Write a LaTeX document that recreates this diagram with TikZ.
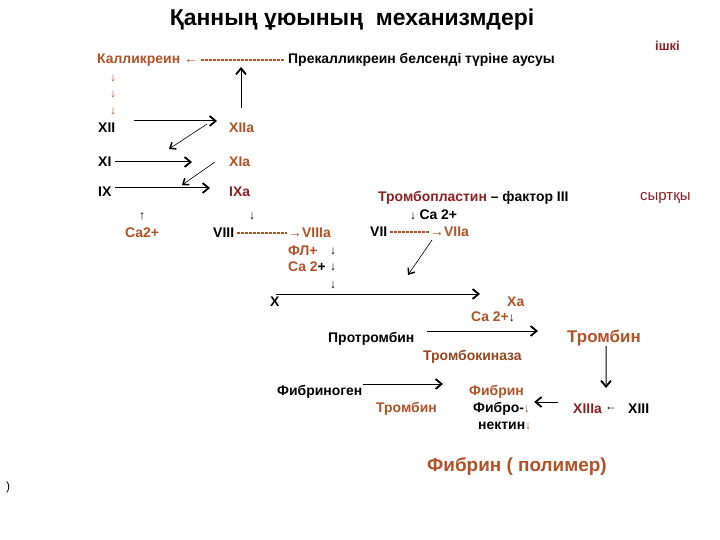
\documentclass[tikz,border=0pt]{standalone}
\usepackage{fontspec}
\setmainfont{Liberation Sans}
\usetikzlibrary{arrows.meta}
\definecolor{brn}{RGB}{178,82,40}
\definecolor{dred}{RGB}{140,32,36}
\tikzset{
  tx/.style={font=\bfseries\fontsize{14}{16}\selectfont, inner sep=0pt, anchor=west, text=black},
  br/.style={tx, text=brn},
  dr/.style={tx, text=dred},
  sm/.style={font=\fontsize{12}{14}\selectfont, inner sep=0pt, anchor=center},
  arr/.style={-{Straight Barb[length=6bp,width=10bp,line width=1.8bp]}, line width=1bp},
  tarr/.style={-{Straight Barb[length=5bp,width=8bp,line width=1.5bp]}, line width=0.6bp},
  brdash/.style={draw=brn, line width=1.6bp, dash pattern=on 2.5bp off 1.5bp}
}
\begin{document}
\begin{tikzpicture}[x=1bp,y=-1bp]
\useasboundingbox[fill=white] (0,0) rectangle (720,540);
% title
\node[font=\bfseries\fontsize{23}{26}\selectfont, inner sep=0] (title) at (352,20) {Қанның ұюының\ \ механизмдері};
\node[dr, font=\bfseries\fontsize{13}{15}\selectfont] (ishki) at (655,46) {ішкі};
\node[tx, font=\fontsize{15}{17}\selectfont, text=dred] (syrt) at (640,198) {сыртқы};
% top line
\node[br] (kal) at (97,60) {Калликреин ←};
\node[tx] (prek) at (288,60) {Прекалликреин белсенді түріне аусуы};
\draw[brdash] ([xshift=3bp]kal.east) -- ([xshift=-3bp]prek.west);
\node[sm, text=brn] (d1) at (113,78) {↓};
\node[sm, text=brn] (d2) at (113,94) {↓};
\node[sm, text=brn] (d3) at (113,111) {↓};
% cascade
\node[tx] (xii) at (98,128) {XII};
\node[br] (xiia) at (229,128) {XIIa};
\node[tx] (xi) at (98,162) {XI};
\node[br] (xia) at (229,162) {XIa};
\node[tx] (ix) at (98,192) {IX};
\node[dr] (ixa) at (229,192) {IXa};
\coordinate (up0) at (241,108);
\coordinate (up1) at (241,67);
\draw[arr] (up0) -- (up1);
\draw[arr] ([shift={(19,-7)}]xii.east) -- ([shift={(-12,-7)}]xiia.west);
\coordinate (g1) at (207,124);
\coordinate (g2) at (169,149);
\draw[tarr] (g1) -- (g2);
\draw[arr] ([shift={(3,0)}]xi.east) -- (192,162);
\coordinate (h1) at (215,162);
\coordinate (h2) at (182,185);
\draw[tarr] (h1) -- (h2);
\draw[arr] ([shift={(3,-4)}]ix.east) -- ([shift={(-19,-4)}]ixa.west);
\node[sm] (u1) at (142,216) {↑};
\node[sm] (u2) at (252,216) {↓};
\node[br] (ca1) at (125,233) {Ca2+};
\node[tx] (viii) at (213,233) {VIII};
\node[br] (viiia) at (288,233) {→VIIIa};
\draw[brdash] ([xshift=3bp]viii.east) -- ([xshift=-1bp]viiia.west);
% extrinsic
\node[dr] (tpl) at (378,198) {Тромбопластин\ \textcolor{black}{– фактор III}};
\node[tx] (ca2) at (410,215) {\fontsize{12}{14}\selectfont↓\ \fontsize{14}{16}\selectfont Ca 2+};
\node[tx] (vii) at (370,232) {VII};
\node[br] (viia) at (430,232) {→VIIa};
\draw[brdash] ([xshift=3bp]vii.east) -- ([xshift=-1bp]viia.west);
\coordinate (k1) at (432,240);
\coordinate (k2) at (408,275);
\draw[tarr] (k1) -- (k2);
% common pathway
\node[br] (fl) at (288,251) {ФЛ+};
\node[br] (ca3) at (288,267) {Ca 2\textcolor{black}{+}};
\node[sm] (v1) at (333,251) {↓};
\node[sm] (v2) at (333,267) {↓};
\node[sm] (v3) at (333,285) {↓};
\node[tx] (x) at (270,302) {X};
\node[br] (xa) at (507,302) {Xa};
\draw[arr] ([shift={(-4,-8)}]x.east) -- (480,294);
\node[br] (ca4) at (471,317) {Ca 2+\textcolor{black}{\fontsize{12}{14}\selectfont↓}};
\node[tx] (prot) at (328,339) {Протромбин};
\node[br, font=\bfseries\fontsize{17}{20}\selectfont] (trom) at (567,338) {Тромбин};
\draw[arr] ([shift={(12,-8)}]prot.east) -- (538,331);
\node[br, text=brn!85!black] (tkin) at (423,357) {Тромбокиназа};
\coordinate (t2) at (606,388);
\draw[arr] ([xshift=39bp]trom.south west) -- (t2);
% fibrin
\node[tx] (fgen) at (277,392) {Фибриноген};
\node[br] (fib) at (469,392) {Фибрин};
\draw[arr] ([shift={(0,-8)}]fgen.east) -- (443,384);
\node[br] (trom2) at (376,409) {Тромбин};
\node[tx] (fibro) at (473,409) {Фибро-\textcolor{brn}{\fontsize{12}{14}\selectfont↓}};
\node[tx] (nekt) at (478,426) {нектин\textcolor{brn}{\fontsize{12}{14}\selectfont↓}};
\node[dr] (xiiia) at (573,409) {XIIIa};
\node[sm] (la) at (611,409) {←};
\node[tx] (xiii) at (628,409) {XIII};
\draw[arr] ([shift={(-15,-7)}]xiiia.west) -- ([shift={(4,-7)}]fibro.east);
\node[br, font=\bfseries\fontsize{19}{22}\selectfont] (poly) at (427,467) {Фибрин ( полимер)};
\node[tx, font=\fontsize{12}{14}\selectfont] (par) at (6,487) {)};
\end{tikzpicture}
\end{document}
